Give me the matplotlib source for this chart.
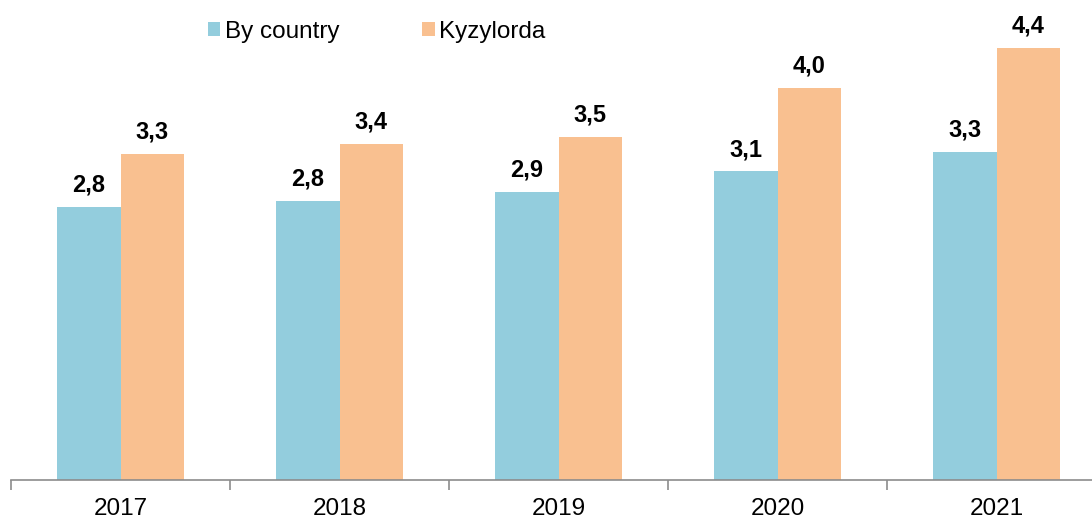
import numpy as np
import matplotlib.pyplot as plt

plt.rcParams['font.family'] = ['Liberation Sans', 'DejaVu Sans']

years = ['2017', '2018', '2019', '2020', '2021']
by_country = [2.78, 2.84, 2.93, 3.14, 3.34]
kyzylorda = [3.32, 3.42, 3.49, 3.99, 4.4]

c_blue = '#93CDDD'
c_orange = '#F9C090'

fig = plt.figure(figsize=(10.92, 5.2), dpi=100)
ax = fig.add_axes([11 / 1092, 1 - 479.5 / 520, 1 - 11 / 1092, 479.5 / 520])

x = np.arange(len(years))
w = 0.288
b1 = ax.bar(x - w / 2, by_country, w, color=c_blue, label='By country')
b2 = ax.bar(x + w / 2, kyzylorda, w, color=c_orange, label='Kyzylorda')

for bars, vals in [(b1, by_country), (b2, kyzylorda)]:
    for r, v in zip(bars, vals):
        ax.annotate(f'{v:.1f}'.replace('.', ','),
                    (r.get_x() + r.get_width() / 2, r.get_height()),
                    xytext=(0, 11), textcoords='offset points',
                    ha='center', va='baseline', fontsize=17, fontweight='bold')

ax.set_yticks([])
ax.set_xticks(x)
ax.set_xticklabels(years, fontsize=17.5)
ax.tick_params(axis='x', which='major', length=0, pad=13)
ax.set_xticks(np.arange(-0.5, 4, 1), minor=True)
ax.tick_params(axis='x', which='minor', length=7, width=1.2, color='#8c8c8c')
ax.set_xlim(-0.5, -0.5 + 1081 / 219)
ax.set_ylim(0, 479.5 / 98.1)
for s in ['top', 'right', 'left']:
    ax.spines[s].set_visible(False)
ax.spines['bottom'].set_color('#8c8c8c')
ax.spines['bottom'].set_linewidth(1.2)

fig.legend(handles=[b1, b2], loc='center', bbox_to_anchor=(377 / 1092, 1 - 32 / 520),
           ncol=2, frameon=False, fontsize=17.5, handlelength=0.5, handleheight=0.5,
           handletextpad=0.2, columnspacing=3.4)

plt.savefig('out.png', dpi=100)
